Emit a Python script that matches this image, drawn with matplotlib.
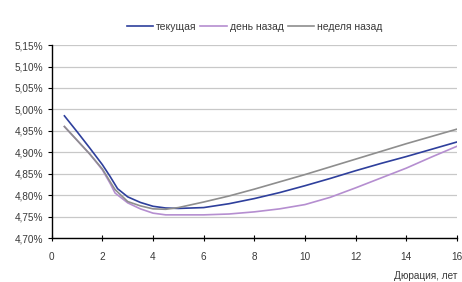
import matplotlib
matplotlib.use("Agg")
import matplotlib.pyplot as plt
from matplotlib.ticker import FuncFormatter
from matplotlib import font_manager

names = {f.name for f in font_manager.fontManager.ttflist}
fam = ["Liberation Sans Narrow", "DejaVu Sans"] if "Liberation Sans Narrow" in names else ["Liberation Sans", "DejaVu Sans"]
plt.rcParams['font.family'] = fam

x_cur = [0.5, 1, 1.5, 2, 2.3, 2.6, 3, 3.5, 4, 4.5, 5, 6, 7, 8, 9, 10, 11, 12, 13, 14, 15, 16]
y_cur = [4.985, 4.948, 4.910, 4.871, 4.844, 4.815, 4.796, 4.783, 4.774, 4.770, 4.769, 4.771, 4.780, 4.792, 4.806, 4.822, 4.839, 4.857, 4.874, 4.890, 4.907, 4.924]

x_day = [0.5, 1, 1.5, 2, 2.3, 2.5, 3, 3.5, 4, 4.5, 5, 6, 7, 8, 9, 10, 11, 12, 13, 14, 15, 16]
y_day = [4.960, 4.928, 4.896, 4.859, 4.828, 4.805, 4.782, 4.768, 4.758, 4.754, 4.754, 4.754, 4.756, 4.761, 4.768, 4.778, 4.795, 4.817, 4.840, 4.863, 4.889, 4.914]

x_week = [0.5, 1, 1.5, 2, 2.3, 2.5, 3, 3.5, 4, 4.5, 5, 6, 7, 8, 9, 10, 11, 12, 13, 14, 15, 16]
y_week = [4.960, 4.928, 4.896, 4.861, 4.832, 4.813, 4.785, 4.775, 4.768, 4.767, 4.771, 4.784, 4.798, 4.814, 4.831, 4.848, 4.866, 4.884, 4.902, 4.920, 4.937, 4.954]

labels = ["текущая", "день назад", "неделя назад"]
yticks = [4.70, 4.75, 4.80, 4.85, 4.90, 4.95, 5.00, 5.05, 5.10, 5.15]
xticks = [0, 2, 4, 6, 8, 10, 12, 14, 16]

txt = "#3A3A3A"
fig = plt.figure(figsize=(4.62, 2.82), dpi=100)
ax = fig.add_axes([0.112, 0.156, 0.877, 0.684])

ax.plot(x_cur, y_cur, color="#2E3F9C", lw=1.2, label=labels[0])
ax.plot(x_day, y_day, color="#B58ED0", lw=1.2, label=labels[1])
ax.plot(x_week, y_week, color="#8E8E8E", lw=1.2, label=labels[2])

ax.set_xlim(0, 16)
ax.set_ylim(4.70, 5.15)
ax.set_yticks(yticks)
ax.set_xticks(xticks)
ax.yaxis.set_major_formatter(FuncFormatter(lambda v, p: f"{v:.2f}%".replace(".", ",")))
ax.grid(axis="y", color="#C8C8C8", lw=0.9)
ax.set_axisbelow(True)
for s in ["top", "right"]:
    ax.spines[s].set_visible(False)
for s in ["left", "bottom"]:
    ax.spines[s].set_color("black")
    ax.spines[s].set_linewidth(1.0)
ax.tick_params(axis="y", direction="out", length=3, labelsize=7.2, pad=3, labelcolor=txt)
ax.tick_params(axis="x", direction="inout", length=4, labelsize=7.2, pad=8, labelcolor=txt)
ax.text(1.0, -0.17, "Дюрация, лет", transform=ax.transAxes, ha="right", va="top",
        fontsize=7.2, color=txt)

ax.legend(loc="lower center", bbox_to_anchor=(0.5, 1.02), ncol=3, frameon=False,
          fontsize=7.5, handlelength=2.5, columnspacing=0.4, handletextpad=0.3,
          labelcolor=txt)

fig.savefig("out.png", dpi=100)
